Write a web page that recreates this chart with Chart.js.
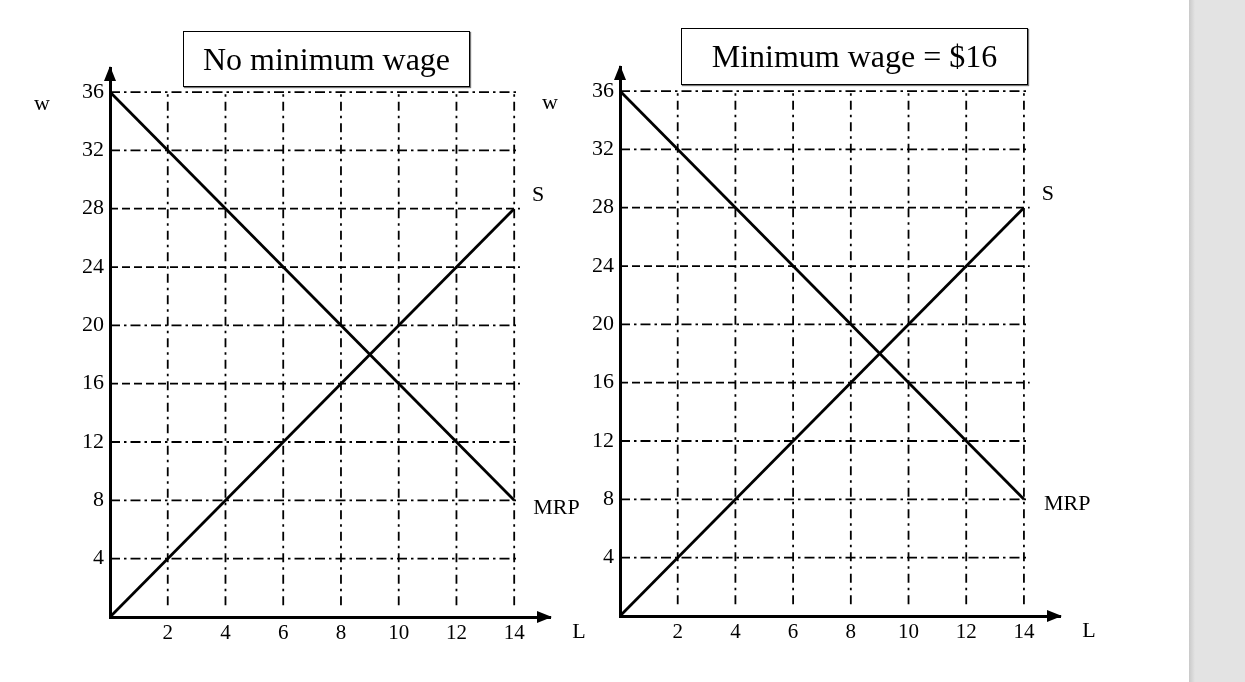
<!DOCTYPE html>
<html><head><meta charset="utf-8">
<script src="https://cdn.jsdelivr.net/npm/chart.js@4.4.0/dist/chart.umd.min.js"></script>
<style>
html,body{margin:0;padding:0;background:#fff;width:1245px;height:682px;overflow:hidden;position:relative;font-family:"Liberation Serif",serif}
canvas{position:absolute;top:0}
#c1{left:0}
#c2{left:510px}
.title{position:absolute;border:1px solid #000;box-shadow:1px 1px 1px #777;background:#fff;font-size:32px;display:flex;align-items:center;justify-content:center;box-sizing:border-box;color:#000;font-family:"Liberation Serif",serif;z-index:2}
#t1{left:183px;top:31px;width:287px;height:56px}
#t2{left:681px;top:28px;width:347px;height:57px}
#side{position:absolute;left:1189px;top:0;width:56px;height:682px;background:linear-gradient(to right,#c9c9c9 0,#e3e3e3 6px,#e3e3e3 100%)}
</style>
</head><body>
<canvas id="c1" width="600" height="682"></canvas>
<canvas id="c2" width="600" height="682"></canvas>
<div class="title" id="t1">No minimum wage</div>
<div class="title" id="t2">Minimum wage = $16</div>
<div id="side"></div>
<script>
// ---- data ----
const wLevels = [4, 8, 12, 16, 20, 24, 28, 32, 36];
const dashedLevels = [16, 24, 28];
const lLevels = [2, 4, 6, 8, 10, 12, 14];
const supplyL = [0, 14];
const supplyW = [0, 28];
const mrpL = [0, 14];
const mrpW = [36, 8];
const panelTitles = ['No minimum wage', 'Minimum wage = $16'];

// ---- helpers ----
const FONT = '"Liberation Serif", "Times New Roman", serif';
const hFrom = 0, hTo = 14.2, vFrom = 0.8, vTo = 36;

function buildDatasets() {
  const ds = [];
  ds.push({ label: 'MRP', data: mrpL.map((l, i) => ({ x: l, y: mrpW[i] })), borderColor: '#000', borderWidth: 2.8, showLine: true, pointRadius: 0 });
  ds.push({ label: 'S', data: supplyL.map((l, i) => ({ x: l, y: supplyW[i] })), borderColor: '#000', borderWidth: 2.8, showLine: true, pointRadius: 0 });
  wLevels.forEach(w => {
    const dashed = dashedLevels.includes(w);
    ds.push({ label: 'h' + w, data: [{ x: hFrom, y: w }, { x: hTo, y: w }], borderColor: '#000', borderWidth: 1.8,
      borderDash: dashed ? [8, 4] : [10, 4, 2.5, 4], showLine: true, pointRadius: 0 });
  });
  lLevels.forEach(l => {
    ds.push({ label: 'v' + l, data: [{ x: l, y: vFrom }, { x: l, y: vTo }], borderColor: '#000', borderWidth: 1.8,
      borderDash: [9, 5, 2.5, 5], showLine: true, pointRadius: 0 });
  });
  return ds;
}

const annot = {
  id: 'annot',
  afterDraw(chart, args, o) {
    const { ctx, chartArea: a, scales: { x, y } } = chart;
    ctx.save();
    ctx.fillStyle = '#000';
    ctx.beginPath();
    ctx.moveTo(a.left, a.top - 2);
    ctx.lineTo(a.left - 6, a.top + 13);
    ctx.lineTo(a.left + 6, a.top + 13);
    ctx.closePath(); ctx.fill();
    ctx.beginPath();
    ctx.moveTo(a.right + 2, a.bottom);
    ctx.lineTo(a.right - 13, a.bottom - 6);
    ctx.lineTo(a.right - 13, a.bottom + 6);
    ctx.closePath(); ctx.fill();
    ctx.font = '22px ' + FONT;
    ctx.textBaseline = 'middle';
    ctx.textAlign = 'center';
    ctx.fillText('w', a.left - o.wDx, y.getPixelForValue(36) + 12);
    ctx.fillText('S', x.getPixelForValue(supplyL[1]) + o.sDx, y.getPixelForValue(supplyW[1]) - 13);
    ctx.fillText('L', a.right + 29, a.bottom + 15);
    ctx.textAlign = 'left';
    ctx.fillText('MRP', x.getPixelForValue(mrpL[1]) + o.mDx, y.getPixelForValue(mrpW[1]) + o.mDy);
    ctx.restore();
  }
};

function makeChart(id, xMax, yMax, padTop, xH, opts) {
  return new Chart(document.getElementById(id), {
    type: 'scatter',
    data: { datasets: buildDatasets() },
    options: {
      responsive: false, animation: false, devicePixelRatio: 1,
      layout: { padding: { left: 0, top: padTop, right: 50, bottom: 0 } },
      plugins: { legend: { display: false }, tooltip: { enabled: false }, title: { display: false }, annot: opts },
      scales: {
        x: {
          type: 'linear', min: 0, max: xMax,
          grid: { display: false, drawTicks: false },
          border: { display: true, color: '#000', width: 3 },
          afterBuildTicks: s => { s.ticks = lLevels.map(v => ({ value: v })); },
          afterFit: s => { s.height = xH; },
          ticks: { color: '#000', font: { family: FONT, size: 21 }, padding: 4, autoSkip: false, maxRotation: 0 }
        },
        y: {
          type: 'linear', min: 0, max: yMax,
          grid: { display: false, drawTicks: false },
          border: { display: true, color: '#000', width: 3 },
          afterBuildTicks: s => { s.ticks = wLevels.map(v => ({ value: v })); },
          afterFit: s => { s.width = 110; },
          ticks: { color: '#000', font: { family: FONT, size: 22 }, padding: 6, autoSkip: false }
        }
      }
    },
    plugins: [annot]
  });
}

makeChart('c1', 15.24, 37.65, 68, 65, { wDx: 68, sDx: 24, mDx: 19, mDy: 8 });
makeChart('c2', 15.25, 37.65, 67, 66, { wDx: 70, sDx: 24, mDx: 20, mDy: 5 });
</script>
</body></html>
